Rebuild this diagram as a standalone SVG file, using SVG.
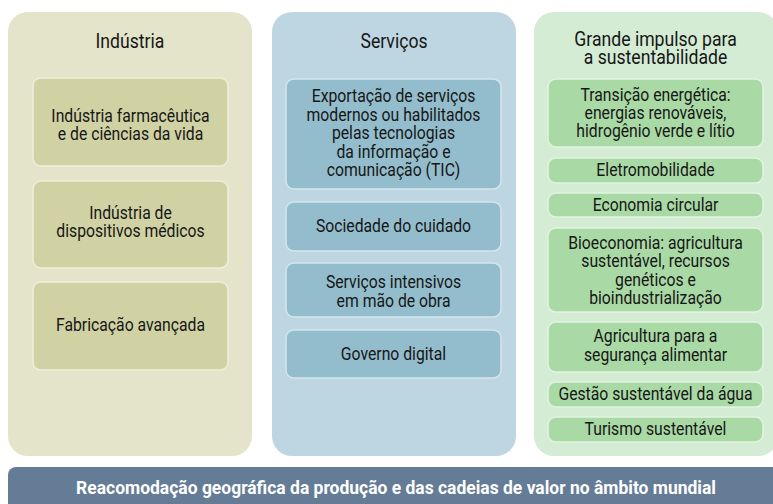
<svg xmlns="http://www.w3.org/2000/svg" width="773" height="504" viewBox="0 0 773 504">
<style>
text{font-family:Roboto,"Liberation Sans",sans-serif;fill:#161616;text-anchor:middle;font-size:19px}
.t{font-size:21px}
.bar{font-weight:bold;fill:#ffffff;font-size:19px}
.pi{fill:#e4e4ca}.bi{fill:#d0d2a4;stroke:#eeeedb;stroke-width:1.5}
.ps{fill:#bed6e1}.bs{fill:#93bdcc;stroke:#d3e6ee;stroke-width:1.5}
.pg{fill:#d4ecd4}.bg{fill:#a9d9a5;stroke:#e2f3e1;stroke-width:1.5}
</style>
<rect width="773" height="504" fill="#ffffff"/>
<g id="industria">
<rect class="pi" x="8" y="12" width="244" height="444" rx="20"/>
<g transform="translate(130,0) scale(0.84,1)"><text class="t" y="48">Indústria</text></g>
<g id="ind1"><rect class="bi" x="33" y="78" width="195" height="88" rx="8"/>
<g transform="translate(130.5,0) scale(0.83,1)"><text y="122"><tspan x="0">Indústria farmacêutica</tspan><tspan x="0" y="140">e de ciências da vida</tspan></text></g></g>
<g id="ind2"><rect class="bi" x="33" y="181" width="195" height="87" rx="8"/>
<g transform="translate(130.5,0) scale(0.83,1)"><text y="219"><tspan x="0">Indústria de</tspan><tspan x="0" y="237">dispositivos médicos</tspan></text></g></g>
<g id="ind3"><rect class="bi" x="33" y="282" width="195" height="88" rx="8"/>
<g transform="translate(130.5,0) scale(0.83,1)"><text y="331">Fabricação avançada</text></g></g>
</g>
<g id="servicos">
<rect class="ps" x="272" y="12" width="244" height="444" rx="20"/>
<g transform="translate(394,0) scale(0.84,1)"><text class="t" y="48">Serviços</text></g>
<g id="srv1"><rect class="bs" x="286" y="79" width="215" height="110" rx="8"/>
<g transform="translate(393.5,0) scale(0.83,1)"><text y="102.5"><tspan x="0">Exportação de serviços</tspan><tspan x="0" y="121">modernos ou habilitados</tspan><tspan x="0" y="139.5">pelas tecnologias</tspan><tspan x="0" y="158">da informação e</tspan><tspan x="0" y="176.5">comunicação (TIC)</tspan></text></g></g>
<g id="srv2"><rect class="bs" x="286" y="202" width="215" height="49" rx="8"/>
<g transform="translate(393.5,0) scale(0.83,1)"><text y="232">Sociedade do cuidado</text></g></g>
<g id="srv3"><rect class="bs" x="286" y="263" width="215" height="54" rx="8"/>
<g transform="translate(393.5,0) scale(0.83,1)"><text y="288"><tspan x="0">Serviços intensivos</tspan><tspan x="0" y="307">em mão de obra</tspan></text></g></g>
<g id="srv4"><rect class="bs" x="286" y="330" width="215" height="48" rx="8"/>
<g transform="translate(393.5,0) scale(0.83,1)"><text y="360">Governo digital</text></g></g>
</g>
<g id="sustentabilidade">
<rect class="pg" x="534" y="12" width="244" height="444" rx="20"/>
<g transform="translate(655.5,0) scale(0.84,1)"><text class="t" y="46"><tspan x="0">Grande impulso para</tspan><tspan x="0" y="64">a sustentabilidade</tspan></text></g>
<g id="sus1"><rect class="bg" x="548" y="79" width="215" height="68" rx="8"/>
<g transform="translate(655.5,0) scale(0.83,1)"><text y="101"><tspan x="0">Transição energética:</tspan><tspan x="0" y="119">energias renováveis,</tspan><tspan x="0" y="137">hidrogênio verde e lítio</tspan></text></g></g>
<g id="sus2"><rect class="bg" x="548" y="158" width="215" height="25" rx="8"/>
<g transform="translate(655.5,0) scale(0.83,1)"><text y="176.5">Eletromobilidade</text></g></g>
<g id="sus3"><rect class="bg" x="548" y="193" width="215" height="24" rx="8"/>
<g transform="translate(655.5,0) scale(0.83,1)"><text y="211">Economia circular</text></g></g>
<g id="sus4"><rect class="bg" x="548" y="228" width="215" height="84" rx="8"/>
<g transform="translate(655.5,0) scale(0.83,1)"><text y="249"><tspan x="0">Bioeconomia: agricultura</tspan><tspan x="0" y="267.3">sustentável, recursos</tspan><tspan x="0" y="285.6">genéticos e</tspan><tspan x="0" y="304">bioindustrialização</tspan></text></g></g>
<g id="sus5"><rect class="bg" x="548" y="322" width="215" height="50" rx="8"/>
<g transform="translate(655.5,0) scale(0.83,1)"><text y="342"><tspan x="0">Agricultura para a</tspan><tspan x="0" y="361">segurança alimentar</tspan></text></g></g>
<g id="sus6"><rect class="bg" x="548" y="382" width="215" height="25" rx="8"/>
<g transform="translate(655.5,0) scale(0.83,1)"><text y="400.5">Gestão sustentável da água</text></g></g>
<g id="sus7"><rect class="bg" x="548" y="417" width="215" height="25" rx="8"/>
<g transform="translate(655.5,0) scale(0.83,1)"><text y="435.5">Turismo sustentável</text></g></g>
</g>
<g id="base">
<rect x="8" y="467" width="790" height="50" rx="8" fill="#647c96"/>
<g transform="translate(396,0) scale(0.92,1)"><text class="bar" y="494">Reacomodação geográfica da produção e das cadeias de valor no âmbito mundial</text></g>
</g>
<g id="connectors"/>
</svg>
